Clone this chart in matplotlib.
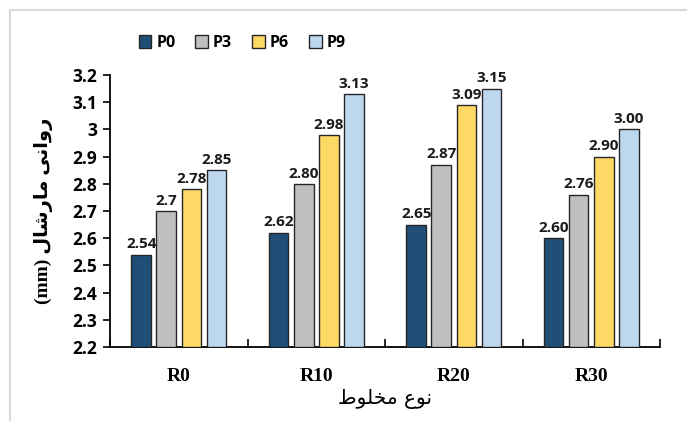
import matplotlib
matplotlib.use("Agg")
import matplotlib.pyplot as plt
import numpy as np
from matplotlib.lines import Line2D

# mix types and additive levels
categories = ["R0", "R10", "R20", "R30"]
series_names = ["P0", "P3", "P6", "P9"]

# flow values (mm), as printed above each bar
p0_labels = ["2.54", "2.62", "2.65", "2.60"]
p3_labels = ["2.7", "2.80", "2.87", "2.76"]
p6_labels = ["2.78", "2.98", "3.09", "2.90"]
p9_labels = ["2.85", "3.13", "3.15", "3.00"]

colors = ["#1F4E79", "#BFBFBF", "#FFD966", "#BDD7EE"]

# Persian text written in visual (shaped, right-to-left) order
# "روانی مارشال (mm)" and "نوع مخلوط"
ylabel_txt = "(mm) \uFEDD\uFE8E\uFEB7\uFEAD\uFE8E\uFEE3 \uFBFD\uFEE7\uFE8D\uFEED\uFEAD"
xlabel_txt = "\uFEC1\uFEEE\uFEE0\uFEA8\uFEE3 \uFEC9\uFEEE\uFEE7"

series = [p0_labels, p3_labels, p6_labels, p9_labels]

fig = plt.figure(figsize=(6.87, 4.21), dpi=100)
ax = fig.add_axes([110 / 687, 74 / 421, 550 / 687, 272 / 421])

x = np.arange(len(categories))
width = 0.142
pitch = 0.182
num_font = ["Open Sans", "DejaVu Sans"]

for i, (name, labels) in enumerate(zip(series_names, series)):
    vals = [float(s) for s in labels]
    offs = (i - 1.5) * pitch
    ax.bar(x + offs, np.array(vals) - 2.2, width, bottom=2.2,
           color=colors[i], edgecolor="#262626", linewidth=1.0,
           label=name, zorder=3)
    for xi, v, s in zip(x, vals, labels):
        ax.text(xi + offs, v + 0.012, s, ha="center", va="bottom",
                fontsize=11, fontweight="bold", family=num_font, color="#1a1a1a")

ax.set_ylim(2.2, 3.2)
ax.set_xlim(-0.5, len(categories) - 0.5)
yt = np.arange(2.2, 3.21, 0.1)
ax.set_yticks(yt)
ax.set_yticklabels(["3" if abs(v - 3) < 1e-6 else f"{v:.1f}" for v in yt])
for lab in ax.get_yticklabels():
    lab.set_fontweight("bold")
    lab.set_fontsize(12.5)
    lab.set_family(num_font)
ax.tick_params(axis="y", direction="out", length=5, width=1.2, pad=4)

# boundary ticks between mix types, labels at group centres
ax.set_xticks(np.arange(-0.5, len(categories), 1.0))
ax.set_xticklabels([])
ax.tick_params(axis="x", which="major", direction="in", length=6, width=1.2)
ax.set_xticks(x, minor=True)
ax.set_xticklabels(categories, minor=True, fontsize=14, fontweight="bold",
                   family="Liberation Serif")
ax.tick_params(axis="x", which="minor", length=0, pad=15)

for side in ["top", "right"]:
    ax.spines[side].set_visible(False)
for side in ["left", "bottom"]:
    ax.spines[side].set_linewidth(1.3)
    ax.spines[side].set_color("black")

ax.set_ylabel(ylabel_txt, fontsize=14, fontweight="bold",
              family=["Liberation Serif", "DejaVu Sans"], labelpad=14)
ax.set_xlabel(xlabel_txt, fontsize=14.5, family=["DejaVu Sans"], labelpad=3)

fig.legend(loc="center", bbox_to_anchor=(242 / 687, 1 - 43 / 421), ncol=4,
           frameon=False, handlelength=0.8, handleheight=0.8,
           handletextpad=0.3, columnspacing=1.25,
           prop={"family": num_font, "weight": "bold", "size": 11.5})

# light chart-area border
fig.add_artist(Line2D([10 / 687, 1], [1 - 9.5 / 421] * 2, transform=fig.transFigure,
                      color="#D9D9D9", linewidth=1.5))
fig.add_artist(Line2D([10 / 687] * 2, [0, 1 - 9.5 / 421], transform=fig.transFigure,
                      color="#D9D9D9", linewidth=1.5))

fig.savefig("out.png", dpi=100)
